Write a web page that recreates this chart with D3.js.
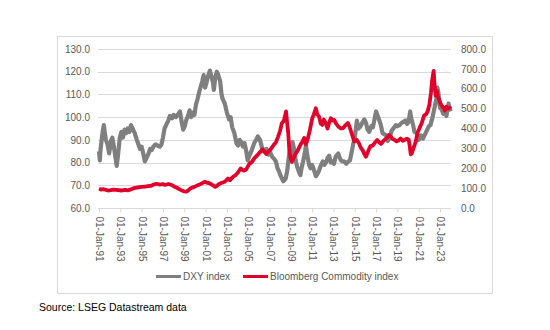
<!DOCTYPE html>
<html>
<head>
<meta charset="utf-8">
<script src="https://cdn.jsdelivr.net/npm/d3@7"></script>
<style>
  html, body { margin: 0; padding: 0; background: #ffffff; }
  svg { display: block; font-family: "Liberation Sans", Arial, sans-serif; }
</style>
</head>
<body>
<svg id="chart" width="550" height="330"></svg>
<script>
// ---------------- DATA ----------------
const seriesNames = ["DXY index", "Bloomberg Commodity index"];

const dxyTimes = [
  1991.00,1991.08,1991.15,1991.30,1991.45,1991.55,1991.65,1991.80,1991.95,
  1992.05,1992.15,1992.25,1992.40,1992.55,1992.66,1992.80,1992.95,
  1993.10,1993.25,1993.40,1993.55,1993.70,1993.85,1994.00,1994.15,1994.35,1994.55,1994.66,1994.85,
  1995.00,1995.15,1995.30,1995.45,1995.65,1995.80,1995.95,1996.10,1996.30,1996.50,1996.70,1996.86,
  1997.00,1997.15,1997.35,1997.50,1997.65,1997.85,1998.00,1998.20,1998.45,1998.60,1998.75,1998.90,
  1999.05,1999.17,1999.35,1999.50,1999.65,1999.80,1999.95,2000.10,2000.25,2000.40,2000.55,2000.70,
  2000.82,2000.95,2001.05,2001.20,2001.40,2001.55,2001.70,2001.78,2001.90,2002.05,2002.15,2002.36,
  2002.50,2002.60,2002.80,2003.00,2003.20,2003.35,2003.50,2003.70,2003.90,2004.05,2004.20,2004.35,
  2004.50,2004.65,2004.80,2004.95,2005.10,2005.30,2005.45,2005.60,2005.75,2005.90,2006.10,2006.30,
  2006.45,2006.70,2006.90,2007.06,2007.25,2007.45,2007.60,2007.75,2007.90,2008.06,2008.30,2008.50,
  2008.65,2008.80,2008.90,2009.00,2009.16,2009.30,2009.45,2009.60,2009.75,2009.90,2010.00,2010.15,
  2010.30,2010.42,2010.55,2010.72,2010.85,2011.00,2011.15,2011.35,2011.50,2011.65,2011.80,2012.00,
  2012.15,2012.30,2012.45,2012.60,2012.75,2012.90,2013.05,2013.20,2013.45,2013.55,2013.70,2013.85,
  2014.00,2014.20,2014.40,2014.55,2014.70,2014.85,2015.00,2015.20,2015.35,2015.55,2015.70,2015.90,
  2016.05,2016.20,2016.35,2016.55,2016.70,2016.85,2017.00,2017.20,2017.45,2017.60,2017.75,2017.95,
  2018.10,2018.30,2018.45,2018.70,2018.85,2019.00,2019.20,2019.40,2019.60,2019.75,2019.90,2020.05,
  2020.20,2020.30,2020.45,2020.60,2020.80,2021.00,2021.20,2021.40,2021.60,2021.80,2021.95,2022.10,
  2022.30,2022.50,2022.65,2022.75,2022.85,2023.00,2023.15,2023.30,2023.50,2023.60,2023.70,2023.80,
  2023.90,2024.00
];
const dxyValues = [
  85,81,86,92,96.5,93,90,88,84,
  87,90,91,87,82,78.5,84,91,
  93.5,91,94.5,93,95,93.5,96.5,95,93,90,88.5,86,
  87,84,80.5,82,84,86,85.5,87,88,87.5,87,88,
  91,95,97,98.5,100.5,99.5,101,100,101.5,102.5,98,94.5,
  96,98.5,100.5,103,100,102,101,105.5,108,111,113.5,116,
  118.5,113,114.5,117.5,120.5,118,115,112,117,120,119,116,
  110,108,106,102,99,100,95.5,93,88.5,87.5,90,89,
  87,88.5,85.5,81,83,85,87,89,90,91.5,90,86.5,
  85,86,83.5,84.5,82.5,81.5,80.5,77.5,76,74,71.8,72.8,
  76,82,86,82,89,86,81,78,76,74.5,77.5,80.5,
  84,87.5,83,79,77.5,79,77,74,75,76.5,78.5,80.5,
  79,80,82,83,80,80.5,79.5,82.5,84,82.5,81,80.5,
  80.5,79.5,80.5,81,84.5,88,91,98.5,95,96,97.5,99,
  97.5,94.5,93.5,96,95.5,99,102.5,100,96.5,93,92.5,92,
  89.5,91,94,95.5,96.5,96,96.5,97.5,98,98.5,97,98,
  102.5,99.5,97,93.5,93,90,92,90.5,92.5,94.5,96,96.5,
  100,104.5,108,113,110.5,104,103.5,101.5,102.5,100.5,103.5,106,
  104,102.5
];

const bcomTimes = [
  1991.00,1991.20,1991.40,1991.60,1991.85,1992.10,1992.40,1992.80,1993.10,1993.40,1993.70,
  1994.00,1994.30,1994.66,1995.00,1995.30,1995.60,1995.90,1996.10,1996.40,1996.70,1997.00,
  1997.20,1997.50,1997.80,1998.10,1998.40,1998.70,1998.95,1999.20,1999.40,1999.60,1999.90,
  2000.27,2000.60,2000.90,2001.10,2001.40,2001.70,2001.90,2002.10,2002.30,2002.60,2002.80,
  2003.10,2003.30,2003.55,2003.80,2004.00,2004.30,2004.55,2004.80,2005.10,2005.35,2005.60,
  2005.85,2006.00,2006.35,2006.55,2006.70,2006.90,2007.10,2007.40,2007.60,2007.80,2008.00,
  2008.15,2008.35,2008.55,2008.65,2008.75,2008.85,2008.95,2009.10,2009.25,2009.40,2009.60,
  2009.90,2010.10,2010.25,2010.40,2010.55,2010.80,2011.00,2011.15,2011.35,2011.50,2011.65,
  2011.80,2011.95,2012.10,2012.25,2012.45,2012.60,2012.75,2012.90,2013.06,2013.25,2013.45,
  2013.70,2013.90,2014.10,2014.35,2014.50,2014.65,2014.80,2014.95,2015.20,2015.40,2015.55,
  2015.75,2015.90,2016.05,2016.25,2016.45,2016.70,2016.90,2017.10,2017.30,2017.45,2017.65,
  2017.85,2018.05,2018.20,2018.40,2018.55,2018.75,2018.90,2019.10,2019.30,2019.50,2019.70,
  2019.90,2020.05,2020.15,2020.25,2020.35,2020.50,2020.70,2020.90,2021.10,2021.30,2021.50,
  2021.70,2021.85,2022.00,2022.15,2022.25,2022.40,2022.50,2022.60,2022.70,2022.80,2022.95,
  2023.10,2023.30,2023.45,2023.60,2023.75,2023.90,2024.00
];
const bcomValues = [
  97,93,95,92,88,90,93,90,88,91,89,
  94,100,104,106,108,110,112,118,122,118,120,
  116,121,116,107,99,90,84,82,90,99,105,
  115,122,132,128,124,114,106,113,122,128,132,
  148,140,156,165,176,199,188,193,222,232,252,
  265,275,295,282,272,285,295,318,330,358,390,
  426,440,486,430,380,300,255,232,250,268,285,
  318,335,352,320,340,395,450,470,502,470,460,
  425,418,445,430,400,430,452,440,443,425,410,
  400,402,415,428,410,385,360,335,342,325,305,
  290,272,258,285,310,315,330,342,330,322,335,
  345,355,367,358,348,342,335,340,350,338,343,
  348,345,315,270,275,300,330,380,405,430,465,
  472,488,520,580,640,690,610,565,590,560,540,
  520,505,490,510,500,505,498
];

const leftTicks = [60, 70, 80, 90, 100, 110, 120, 130];
const rightTicks = [0, 100, 200, 300, 400, 500, 600, 700, 800];
const tickYears = [1991,1993,1995,1997,1999,2001,2003,2005,2007,2009,2011,2013,2015,2017,2019,2021,2023];
const sourceText = "Source: LSEG Datastream data";

// ---------------- HELPERS ----------------
function toDate(y) {
  const yr = Math.floor(y);
  const start = new Date(yr, 0, 1).getTime();
  const end = new Date(yr + 1, 0, 1).getTime();
  return new Date(start + (y - yr) * (end - start));
}

const dxy = dxyTimes.map((t, i) => ({ date: toDate(t), value: dxyValues[i] }));
const bcom = bcomTimes.map((t, i) => ({ date: toDate(t), value: bcomValues[i] }));

// ---------------- LAYOUT ----------------
const svg = d3.select("#chart");
const plot = { left: 99, right: 451, top: 49, bottom: 208 };
const textColor = "#595959";
const grayColor = "#7f7f7f";
const redColor = "#e1002a";

// chart frame
svg.append("rect")
  .attr("x", 57.5).attr("y", 36.5).attr("width", 435).attr("height", 257)
  .attr("fill", "#fff").attr("stroke", "#d9d9d9").attr("stroke-width", 1);

const x = d3.scaleTime()
  .domain([toDate(1991.0), toDate(2024.03)])
  .range([plot.left, plot.right]);
const yL = d3.scaleLinear().domain([60, 130]).range([plot.bottom, plot.top]);
const yR = d3.scaleLinear().domain([0, 800]).range([plot.bottom, plot.top]);

// gridlines
svg.append("g")
  .selectAll("line")
  .data(leftTicks.slice(1))
  .join("line")
  .attr("x1", plot.left - 1).attr("x2", plot.right)
  .attr("y1", d => Math.round(yL(d)) + 0.5).attr("y2", d => Math.round(yL(d)) + 0.5)
  .attr("stroke", "#d9d9d9").attr("stroke-width", 1);

// left axis
const gLeft = svg.append("g").attr("transform", `translate(${plot.left - 9},0)`)
  .call(d3.axisLeft(yL).tickValues(leftTicks).tickFormat(d3.format(".1f")).tickSize(0).tickPadding(0));
gLeft.select(".domain").remove();
gLeft.selectAll("text").attr("fill", textColor).style("font-size", "10px")
  .style("font-family", "Liberation Sans, Arial, sans-serif");

// right axis
const gRight = svg.append("g").attr("transform", `translate(${plot.right + 10},0)`)
  .call(d3.axisRight(yR).tickValues(rightTicks).tickFormat(d3.format(".1f")).tickSize(0).tickPadding(0));
gRight.select(".domain").remove();
gRight.selectAll("text").attr("fill", textColor).style("font-size", "10px")
  .style("font-family", "Liberation Sans, Arial, sans-serif");

// bottom axis
const gBottom = svg.append("g").attr("transform", `translate(0,${Math.round(plot.bottom) + 0.5})`)
  .call(d3.axisBottom(x)
    .tickValues(tickYears.map(y => new Date(y, 0, 1)))
    .tickFormat(d3.timeFormat("%d-%b-%y"))
    .tickSizeOuter(0).tickSize(4).tickPadding(0));
gBottom.select(".domain").attr("stroke", "#d9d9d9").attr("d", `M${plot.left - 1},0H${plot.right}`);
gBottom.selectAll(".tick line").attr("stroke", "#d9d9d9");
gBottom.selectAll("text")
  .attr("fill", textColor).style("font-size", "10px")
  .style("font-family", "Liberation Sans, Arial, sans-serif")
  .attr("text-anchor", "start")
  .attr("transform", "translate(0,8) rotate(90)")
  .attr("x", 0).attr("y", 0).attr("dy", "0.35em");

// lines
const lineL = d3.line().x(d => x(d.date)).y(d => yL(d.value)).curve(d3.curveLinear);
const lineR = d3.line().x(d => x(d.date)).y(d => yR(d.value)).curve(d3.curveLinear);

svg.append("path").datum(dxy)
  .attr("d", lineL).attr("fill", "none")
  .attr("stroke", grayColor).attr("stroke-width", 4.2)
  .attr("stroke-linejoin", "round");

svg.append("path").datum(bcom)
  .attr("d", lineR).attr("fill", "none")
  .attr("stroke", redColor).attr("stroke-width", 3.8)
  .attr("stroke-linejoin", "round");

// legend
const legend = svg.append("g").style("font-family", "Liberation Sans, Arial, sans-serif");
const legendItems = [
  { name: seriesNames[0], color: grayColor, x: 156 },
  { name: seriesNames[1], color: redColor, x: 243 }
];
legendItems.forEach(it => {
  legend.append("line")
    .attr("x1", it.x).attr("x2", it.x + 25)
    .attr("y1", 276.5).attr("y2", 276.5)
    .attr("stroke", it.color).attr("stroke-width", 3);
  legend.append("text")
    .attr("x", it.x + 27).attr("y", 280)
    .attr("fill", textColor).style("font-size", "10px")
    .text(it.name);
});

// source
svg.append("text")
  .attr("x", 39).attr("y", 311)
  .attr("fill", "#000").style("font-size", "10.5px")
  .style("font-family", "Liberation Sans, Arial, sans-serif")
  .text(sourceText);
</script>
</body>
</html>
